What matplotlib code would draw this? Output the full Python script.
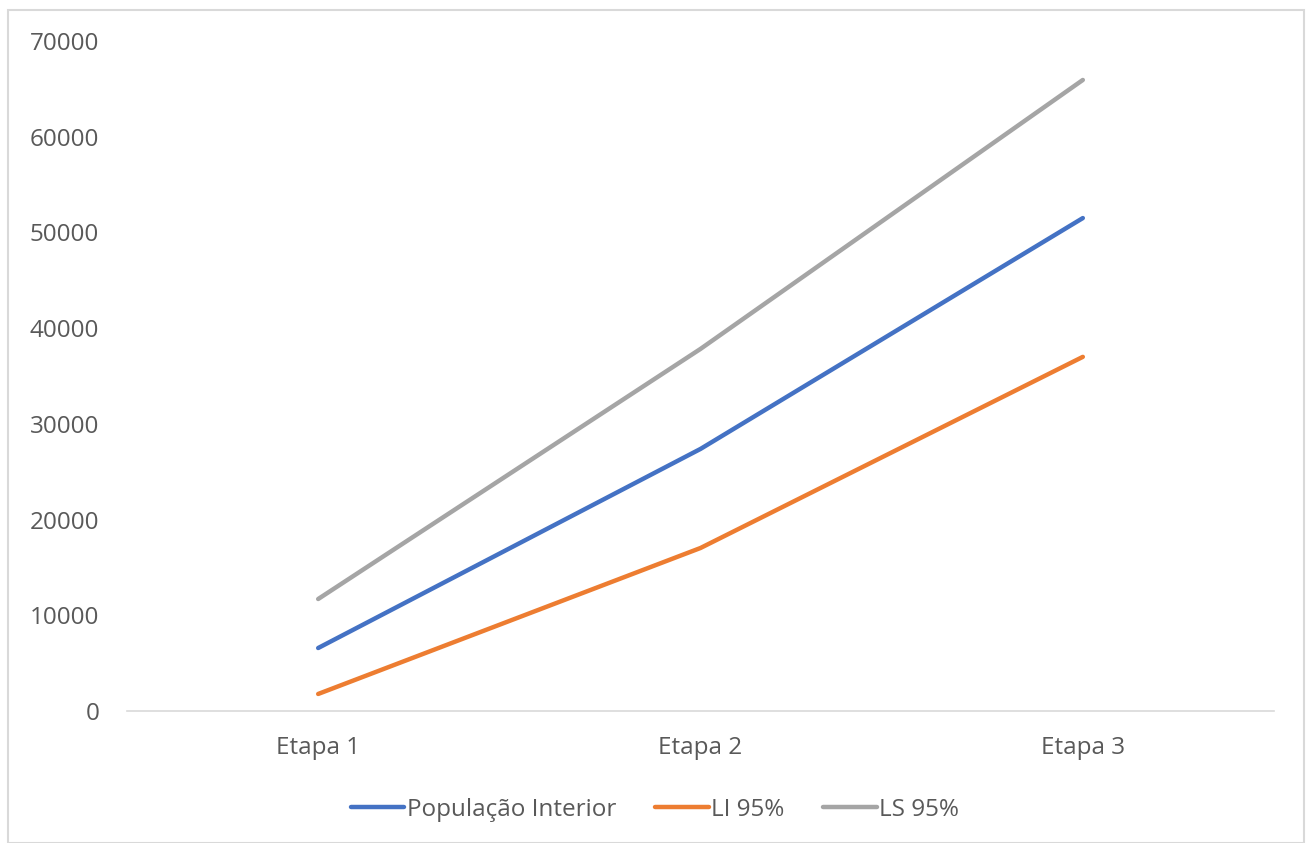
import matplotlib
matplotlib.use("Agg")
import matplotlib.pyplot as plt
from matplotlib.patches import Rectangle

categories = ["Etapa 1", "Etapa 2", "Etapa 3"]
populacao = [6580, 27380, 51500]
li95 = [1780, 17030, 37000]
ls95 = [11700, 37830, 65930]
yticks = [0, 10000, 20000, 30000, 40000, 50000, 60000, 70000]

plt.rcParams['font.family'] = ['Open Sans', 'DejaVu Sans']

fig = plt.figure(figsize=(13.11, 8.43), dpi=100)
fig.patches.append(Rectangle((8/1311, 0), (1304-8)/1311, (843-10)/843, transform=fig.transFigure,
                             fill=False, edgecolor='#d9d9d9', linewidth=1.5))

ax = fig.add_axes([127/1311, (843-711)/843, (1274-127)/1311, (711-41)/843])
x = list(range(len(categories)))
ax.plot(x, populacao, color='#4472c4', lw=3.2, label='População Interior', solid_capstyle='round')
ax.plot(x, li95, color='#ed7d31', lw=3.2, label='LI 95%', solid_capstyle='round')
ax.plot(x, ls95, color='#a5a5a5', lw=3.2, label='LS 95%', solid_capstyle='round')

ax.set_xlim(-0.5, 2.5)
ax.set_ylim(0, 70000)
ax.set_yticks(yticks)
ax.set_yticklabels([str(v) for v in yticks])
ax.set_xticks(x)
ax.set_xticklabels(categories)
for s in ['top', 'right', 'left']:
    ax.spines[s].set_visible(False)
ax.spines['bottom'].set_color('#d9d9d9')
ax.spines['bottom'].set_linewidth(1.2)
ax.tick_params(axis='both', length=0, labelsize=17.5, colors='#595959')
ax.tick_params(axis='y', pad=20)
ax.tick_params(axis='x', pad=18)

leg = fig.legend(loc='center', bbox_to_anchor=(655/1311, (843-810)/843), ncol=3, frameon=False,
                 fontsize=17.5, handlelength=2.2, handletextpad=0.1, columnspacing=1.6)
for t in leg.get_texts():
    t.set_color('#595959')

fig.savefig('out.png', dpi=100)
